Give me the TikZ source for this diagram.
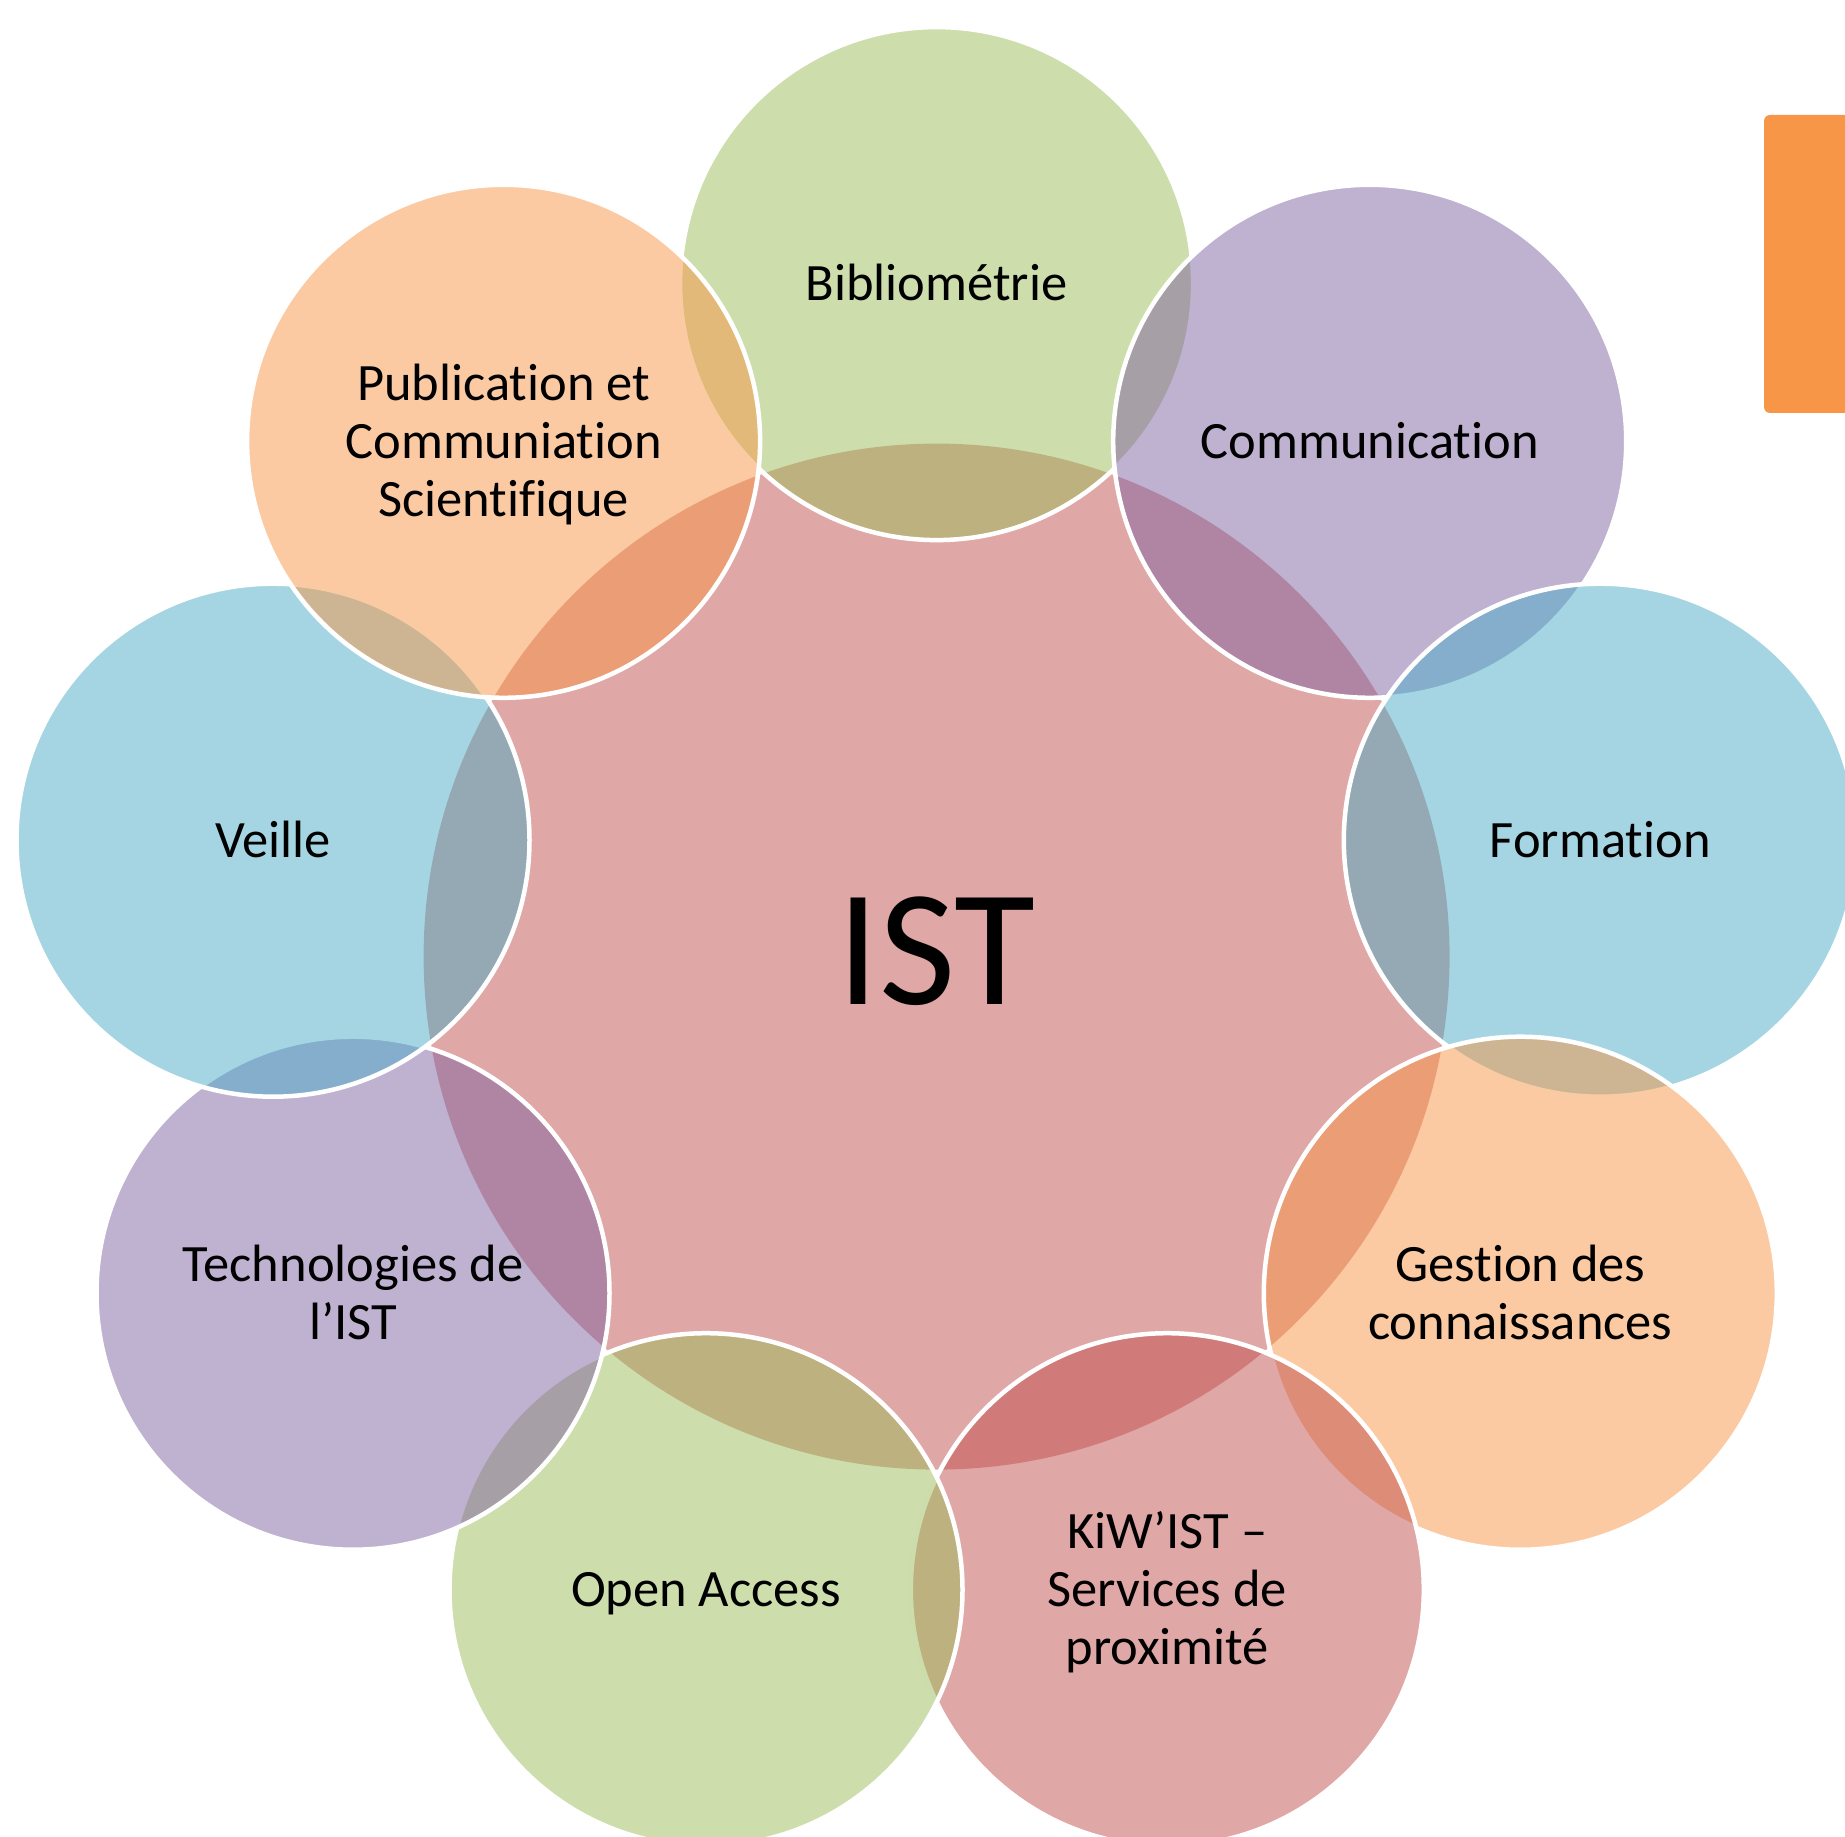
\documentclass[tikz,border=0pt]{standalone}
\usepackage{fontspec}
\setmainfont{Carlito}[Ligatures={NoCommon}]
\definecolor{cgreen}{HTML}{9BBB59}
\definecolor{cpurple}{HTML}{8064A2}
\definecolor{cblue}{HTML}{4BACC6}
\definecolor{corange}{HTML}{F79646}
\definecolor{cred}{HTML}{C0504D}
\newcommand\txl[1]{\smash{#1}\rule[-0.2em]{0pt}{1.044em}}
\begin{document}
\begin{tikzpicture}[x=0.4pt,y=-0.4pt,
  bubble/.style={fill=#1,fill opacity=0.5,draw=white,draw opacity=1,line width=1.8pt},
  lbl/.style={align=center,font=\fontsize{21}{23.2}\selectfont,text=black,inner sep=0pt}]
\useasboundingbox (0,0) rectangle (1845,1837);
\clip (0,0) rectangle (1845,1837);
% orange tab
\fill[corange,rounded corners=2.4pt] (1764,115) rectangle (1880,413);
% centre circle
\fill[cred,fill opacity=0.5] (936.6,956.6) circle (513);
% outer circles, clockwise from the top
\path[bubble=cgreen]  (936.6,283.6)  circle (256.5);
\path[bubble=cpurple] (1369.7,441.3) circle (256.5);
\path[bubble=cblue]   (1600.3,840.2) circle (256.5);
\path[bubble=corange] (1520.3,1293.2) circle (256.5);
\path[bubble=cred]    (1167.3,1589.7) circle (256.5);
\path[bubble=cgreen]  (706,1589.7)   circle (256.5);
\path[bubble=cpurple] (353,1293.2)   circle (256.5);
\path[bubble=cblue]   (273,840.2)    circle (256.5);
\path[bubble=corange] (503.6,441.3)  circle (256.5);
% labels
\node[lbl] (ist) at (936.6,951) {\fontsize{66.4}{80}\selectfont\txl{IST}};
\node[lbl] (biblio) at (936.6,283.6) {\txl{Bibliométrie}};
\node[lbl] (comm) at (1369.7,441.3) {\txl{Communication}};
\node[lbl] (form) at (1600.3,840.2) {\txl{Formation}};
\node[lbl] (gest) at (1520.3,1293.2) {\txl{Gestion des}\\\txl{connaissances}};
\node[lbl] (kiw) at (1167.3,1589.7) {\txl{KiW’IST –}\\\txl{Services de}\\\txl{proximité}};
\node[lbl] (oa) at (706,1589.7) {\txl{Open Access}};
\node[lbl] (tech) at (353,1293.2) {\txl{Technologies de}\\\txl{l’IST}};
\node[lbl] (veille) at (273,840.2) {\txl{Veille}};
\node[lbl] (pub) at (503.6,441.3) {\txl{Publication et}\\\txl{Communiation}\\\txl{Scientifique}};
\end{tikzpicture}
\end{document}
